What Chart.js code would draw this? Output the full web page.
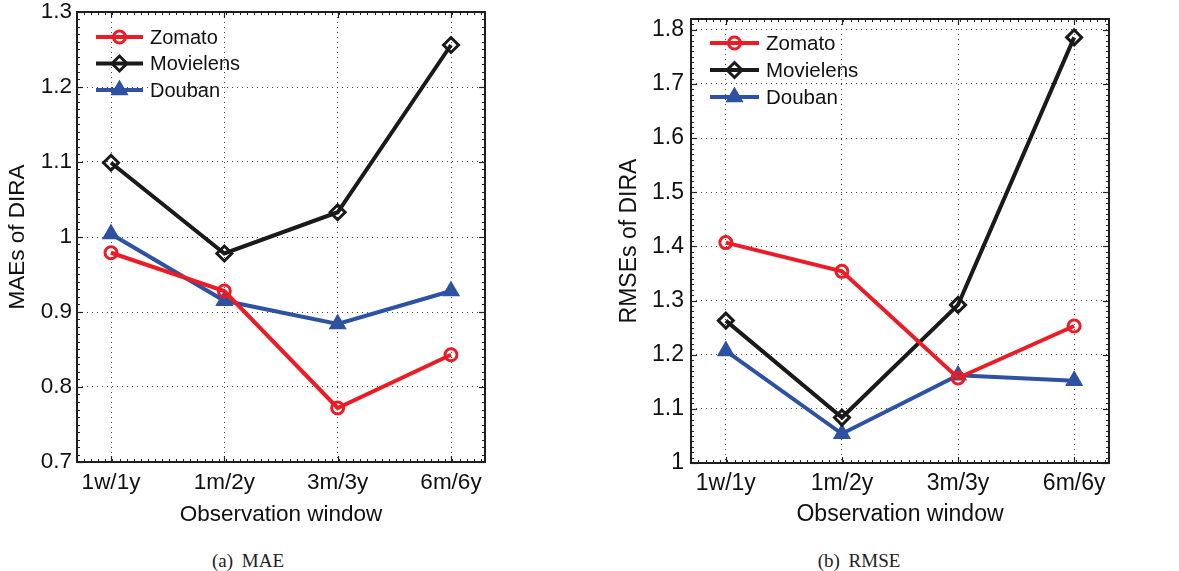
<!DOCTYPE html>
<html>
<head>
<meta charset="utf-8">
<script src="https://cdn.jsdelivr.net/npm/chart.js@4.4.7/dist/chart.umd.min.js"></script>
<style>
  body { margin: 0; background: #fff; width: 1179px; height: 571px; position: relative; overflow: hidden; }
  canvas { position: absolute; top: 0; }
  #maeChart { left: 0; }
  #rmseChart { left: 590px; }
  .cap { position: absolute; top: 550px; font-family: "Liberation Serif", "Times New Roman", serif; font-size: 19px; color: #222; transform: translateX(-50%); white-space: nowrap; word-spacing: 4px; }
</style>
</head>
<body>
<canvas id="maeChart" width="590" height="540"></canvas>
<canvas id="rmseChart" width="589" height="540"></canvas>
<div class="cap" style="left:248px">(a) MAE</div>
<div class="cap" style="left:859px">(b) RMSE</div>
<script>
// observation windows on the x axis
const categories = ["1w/1y", "1m/2y", "3m/3y", "6m/6y"];

// MAE values
const maeZomato = [0.979, 0.928, 0.772, 0.843];
const maeMovielens = [1.099, 0.978, 1.033, 1.256];
const maeDouban = [1.004, 0.915, 0.884, 0.928];

// RMSE values
const rmseZomato = [1.407, 1.354, 1.157, 1.253];
const rmseMovielens = [1.263, 1.084, 1.292, 1.786];
const rmseDouban = [1.207, 1.054, 1.162, 1.152];

const maeTicks = [0.7, 0.8, 0.9, 1.0, 1.1, 1.2, 1.3];
const rmseTicks = [1.0, 1.1, 1.2, 1.3, 1.4, 1.5, 1.6, 1.7, 1.8];

const RED = "#ec1c24";
const BLACK = "#1a1a1a";
const BLUE = "#2d52a3";
const TEXT = "#111";

function pts(vals) {
    return vals.map((v, i) => ({ x: i + 1, y: v }));
}

function series(zom, mov, dou) {
    return [
        { label: "Zomato", data: pts(zom), borderColor: RED, pointBorderColor: RED,
          pointBackgroundColor: "rgba(0,0,0,0)", pointStyle: "circle", pointRadius: 6, pointBorderWidth: 3 },
        { label: "Movielens", data: pts(mov), borderColor: BLACK, pointBorderColor: BLACK,
          pointBackgroundColor: "rgba(0,0,0,0)", pointStyle: "rectRot", pointRadius: 7.5, pointBorderWidth: 3 },
        { label: "Douban", data: pts(dou), borderColor: BLUE, pointBorderColor: BLUE,
          pointBackgroundColor: BLUE, pointStyle: "triangle", pointRadius: 9, pointBorderWidth: 1.5 },
    ].map(ds => Object.assign(ds, { borderWidth: 4, tension: 0, pointHoverRadius: ds.pointRadius }));
}

// box, inner ticks (major + minor) and in-plot legend
const framePlugin = {
    id: "frame",
    afterDraw(chart, args, opts) {
        const { ctx, chartArea: a, scales } = chart;
        const xs = scales.x, ys = scales.y;
        ctx.save();
        ctx.strokeStyle = "#222";
        ctx.lineWidth = 1;
        const tick = (x1, y1, x2, y2) => { ctx.beginPath(); ctx.moveTo(x1, y1); ctx.lineTo(x2, y2); ctx.stroke(); };
        // minor x ticks
        for (let v = xs.min; v <= xs.max + 1e-9; v += 1 / 16) {
            const px = Math.round(xs.getPixelForValue(v)) + 0.5;
            tick(px, a.bottom, px, a.bottom - 3);
            tick(px, a.top, px, a.top + 3);
        }
        // minor y ticks
        for (let v = ys.min; v <= ys.max + 1e-9; v += 0.01) {
            const py = Math.round(ys.getPixelForValue(v)) + 0.5;
            tick(a.left, py, a.left + 3, py);
            tick(a.right, py, a.right - 3, py);
        }
        // major ticks
        ctx.lineWidth = 1.2;
        xs.ticks.forEach(t => {
            const px = Math.round(xs.getPixelForValue(t.value)) + 0.5;
            tick(px, a.bottom, px, a.bottom - 6);
            tick(px, a.top, px, a.top + 6);
        });
        ys.ticks.forEach(t => {
            const py = Math.round(ys.getPixelForValue(t.value)) + 0.5;
            tick(a.left, py, a.left + 6, py);
            tick(a.right, py, a.right - 6, py);
        });
        // box
        ctx.lineWidth = 2;
        ctx.strokeStyle = "#1e1e1e";
        ctx.strokeRect(a.left, a.top, a.right - a.left, a.bottom - a.top);

        // legend
        const lg = opts.legend;
        chart.data.datasets.forEach((ds, i) => {
            const y = lg.y + i * lg.gap;
            ctx.strokeStyle = ds.borderColor;
            ctx.lineWidth = ds.borderWidth;
            tick(lg.x, y, lg.x + lg.len, y);
            ctx.fillStyle = ds.pointBackgroundColor;
            ctx.strokeStyle = ds.pointBorderColor;
            ctx.lineWidth = ds.pointBorderWidth;
            Chart.helpers.drawPoint(ctx, { pointStyle: ds.pointStyle, radius: ds.pointRadius, rotation: 0, borderWidth: ds.pointBorderWidth },
                lg.x + lg.len / 2, y);
            ctx.fillStyle = TEXT;
            ctx.font = lg.size + "px 'Liberation Sans', Arial, sans-serif";
            ctx.textBaseline = "middle";
            ctx.fillText(ds.label, lg.x + lg.len + lg.textGap, y + 1);
        });
        ctx.restore();
    },
};

function makeChart(id, cfg) {
    const font = { family: "'Liberation Sans', Arial, sans-serif", size: cfg.fontSize };
    return new Chart(document.getElementById(id), {
        type: "line",
        data: { datasets: cfg.datasets },
        options: {
            responsive: false,
            animation: false,
            devicePixelRatio: 1,
            layout: { padding: { top: cfg.top, right: cfg.right, left: 0, bottom: 0 } },
            plugins: {
                legend: { display: false },
                tooltip: { enabled: false },
                frame: { legend: cfg.legend },
            },
            scales: {
                x: {
                    type: "linear",
                    min: 0.7,
                    max: 4.3,
                    afterBuildTicks: s => { s.ticks = categories.map((c, i) => ({ value: i + 1 })); },
                    afterFit: s => { s.height = cfg.xHeight; s.paddingLeft = 0; s.paddingRight = 0; },
                    ticks: { callback: v => categories[v - 1], color: TEXT, font, padding: cfg.xPad, maxRotation: 0, autoSkip: false },
                    grid: { color: "#444", lineWidth: 1, drawTicks: false },
                    border: { display: false, dash: [1, 4] },
                    title: { display: true, text: "Observation window", color: TEXT, font, padding: { top: 0, bottom: cfg.xTitlePad } },
                },
                y: {
                    min: cfg.yMin,
                    max: cfg.yMax,
                    afterBuildTicks: s => { s.ticks = cfg.yTicks.map(v => ({ value: v })); },
                    afterFit: s => { s.width = cfg.yWidth; s.paddingTop = 0; s.paddingBottom = 0; },
                    ticks: { callback: v => String(Number(v.toFixed(2))), color: TEXT, font, padding: cfg.yPad },
                    grid: { color: "#444", lineWidth: 1, drawTicks: false },
                    border: { display: false, dash: [1, 4] },
                    title: { display: true, text: cfg.yTitle, color: TEXT, font, padding: { top: cfg.yTitlePad, bottom: 0 } },
                },
            },
        },
        plugins: [framePlugin],
    });
}

makeChart("maeChart", {
    datasets: series(maeZomato, maeMovielens, maeDouban),
    fontSize: 22.5,
    top: 12, right: 105, yWidth: 77, xHeight: 78,
    xPad: 7, yPad: 5, xTitlePad: 12, yTitlePad: 4,
    yMin: 0.7, yMax: 1.3, yTicks: maeTicks, yTitle: "MAEs of DIRA",
    legend: { x: 96, y: 37, gap: 26.5, len: 47, textGap: 7, size: 20 },
});

makeChart("rmseChart", {
    datasets: series(rmseZomato, rmseMovielens, rmseDouban),
    fontSize: 23,
    top: 19, right: 70, yWidth: 101, xHeight: 77,
    xPad: 7, yPad: 7, xTitlePad: 12, yTitlePad: 26,
    yMin: 1.0, yMax: 1.82, yTicks: rmseTicks, yTitle: "RMSEs of DIRA",
    legend: { x: 120, y: 43, gap: 27, len: 49, textGap: 7, size: 20.5 },
});
</script>
</body>
</html>
